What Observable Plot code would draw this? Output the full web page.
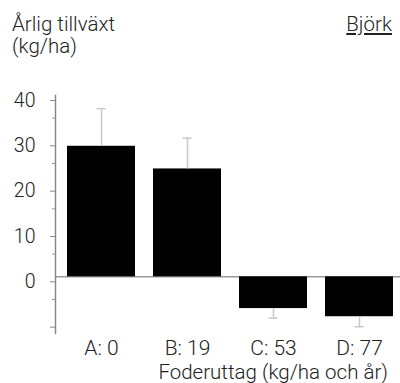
<!DOCTYPE html>
<html>
<head>
<meta charset="utf-8">
<script src="https://cdn.jsdelivr.net/npm/d3@7"></script>
<script src="https://cdn.jsdelivr.net/npm/@observablehq/plot@0.6"></script>
<style>
  html, body { margin: 0; padding: 0; background: #fff; }
  #wrap { position: relative; width: 400px; height: 383px; font-family: Roboto, "Liberation Sans", sans-serif; font-weight: 300; color: #222; }
  .t { position: absolute; font-size: 20.5px; line-height: 22px; white-space: nowrap; }
  #title { left: 12px; top: 13px; }
  #tag { right: 8px; top: 13px; text-decoration: underline; text-underline-offset: 2px; }
  #xlab { right: 12px; top: 361px; }
  #chart { position: absolute; left: 0; top: 0; }
</style>
</head>
<body>
<div id="wrap">
  <div id="chart"></div>
  <div class="t" id="title">Årlig tillväxt<br>(kg/ha)</div>
  <div class="t" id="tag">Björk</div>
  <div class="t" id="xlab">Foderuttag (kg/ha och år)</div>
</div>
<script>
const categories = ["A: 0", "B: 19", "C: 53", "D: 77"];
const growth = [28.8, 23.8, -7.0, -8.8];
const errorSize = [8.3, 6.8, 2.1, 2.2];
const majorTicks = [-10, 0, 10, 20, 30, 40];
const minorTicks = [-5, 5, 15, 25, 35];

const data = categories.map((c, i) => ({
  cat: c,
  value: growth[i],
  err: growth[i] >= 0 ? growth[i] + errorSize[i] : growth[i] - errorSize[i]
}));

const chart = Plot.plot({
  width: 400,
  height: 383,
  marginTop: 95,
  marginBottom: 50,
  marginLeft: 55,
  marginRight: 0,
  style: { fontFamily: "Roboto, 'Liberation Sans', sans-serif", fontWeight: 300, color: "#222", background: "transparent" },
  x: { domain: categories, padding: 0.212, paddingOuter: 0.076, insetLeft: 5, label: null },
  y: { domain: [-12.5, 40], label: null },
  marks: [
    Plot.ruleY([0], { stroke: "#999", strokeWidth: 1.5 }),
    Plot.frame({ anchor: "left", stroke: "#888", strokeWidth: 1.5 }),
    Plot.axisY({ ticks: minorTicks, tickSize: 3, tickFormat: () => "", stroke: "#999" }),
    Plot.axisY({ ticks: majorTicks, tickSize: 5, tickPadding: 15, fontSize: 19.5, dy: 5, stroke: "#888",
                 tickFormat: d => d < 0 ? "" : String(d) }),
    Plot.axisX({ tickSize: 0, tickPadding: 7, fontSize: 21 }),
    Plot.barY(data, { x: "cat", y: "value", fill: "#000" }),
    Plot.ruleX(data, { x: "cat", y1: "value", y2: "err", stroke: "#c8c8c8", strokeWidth: 1.5 }),
    Plot.tickY(data, { x: "cat", y: "err", stroke: "#c8c8c8", strokeWidth: 1.5, insetLeft: 29.5, insetRight: 29.5 })
  ]
});
document.getElementById("chart").appendChild(chart);
</script>
</body>
</html>
